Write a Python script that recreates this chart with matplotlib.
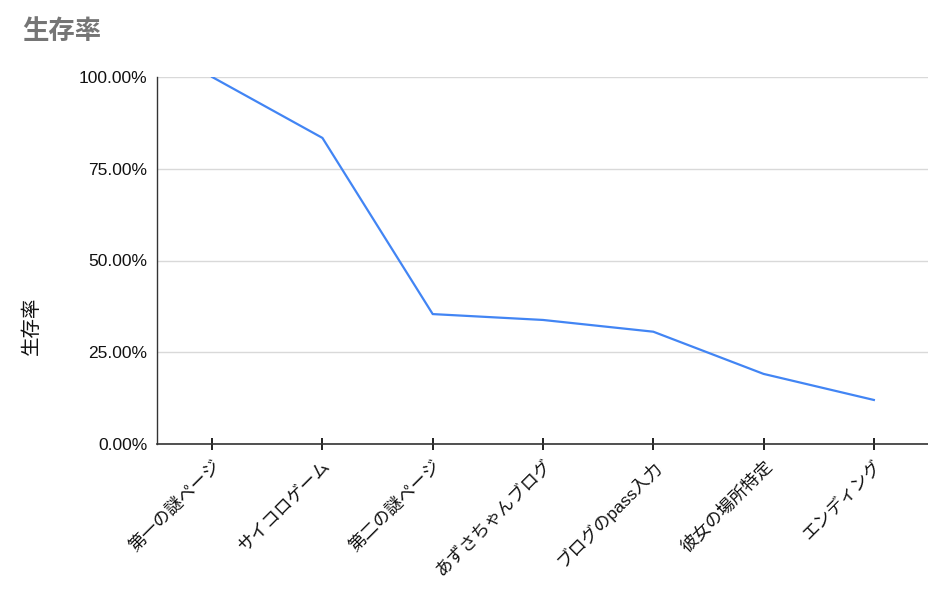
# -*- coding: utf-8 -*-
import matplotlib
matplotlib.use('Agg')
import matplotlib.pyplot as plt
from matplotlib.ticker import PercentFormatter

plt.rcParams['font.family'] = ['Liberation Sans', 'Noto Sans CJK JP', 'DejaVu Sans']

# ==================== データ ====================
steps = ['第一の謎ページ', 'サイコロゲーム', '第二の謎ページ', 'あずさちゃんブログ',
         'ブログのpass入力', '彼女の場所特定', 'エンディング']
survival = [100.0, 83.4, 35.4, 33.8, 30.6, 19.1, 12.0]
y_ticks = [0, 25, 50, 75, 100]

# ==================== 描画 ====================
fig = plt.figure(figsize=(9.29, 5.96), dpi=100)
ax = fig.add_axes([157 / 929, 1 - 444 / 596, 1 - 157 / 929, (444 - 77) / 596])

x = list(range(len(steps)))
ax.plot(x, survival, color='#4285F4', linewidth=1.6, zorder=3)

ax.set_xlim(-0.5, len(steps) - 0.5)
ax.set_ylim(0, 100)
ax.set_yticks(y_ticks)
ax.yaxis.set_major_formatter(PercentFormatter(decimals=2))
ax.set_xticks(x)
ax.set_xticklabels(steps, rotation=45, ha='right', rotation_mode='anchor', fontsize=12.5)

ax.grid(axis='y', color='#d9d9d9', linewidth=1)
ax.set_axisbelow(True)
for s in ['top', 'right']:
    ax.spines[s].set_visible(False)
ax.spines['left'].set_color('#333333')
ax.spines['bottom'].set_color('#333333')
ax.spines['left'].set_linewidth(1)
ax.spines['bottom'].set_linewidth(1.2)

ax.tick_params(axis='y', length=0, pad=7, labelsize=12.5, labelcolor='#111111')
ax.tick_params(axis='x', direction='inout', length=9, width=1.4, color='#222222',
               pad=5, labelcolor='#111111')

fig.text(22 / 929, 1 - 32 / 596, '生存率', fontsize=19, fontweight='bold',
         color='#757575', va='center', ha='left')
fig.text(32 / 929, 1 - 326 / 596, '生存率', fontsize=14, rotation=90,
         color='#111111', va='center', ha='center')

plt.savefig('out.png', dpi=100)
